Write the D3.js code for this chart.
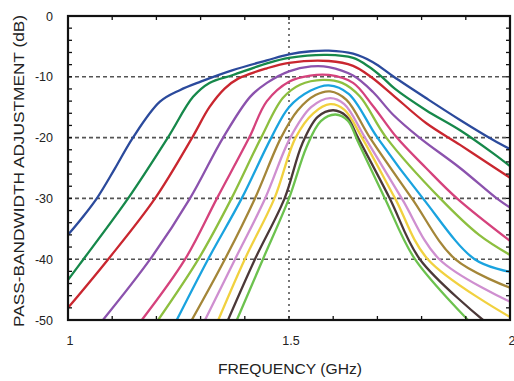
<!DOCTYPE html>
<html>
<head>
<meta charset="utf-8">
<script src="https://cdn.jsdelivr.net/npm/d3@7"></script>
<style>
  body { margin: 0; background: #fff; }
  text { font-family: Arial, "Liberation Sans", Helvetica, sans-serif; fill: #222; }
</style>
</head>
<body>
<div id="chart"></div>
<script>
// tick labels
const xTickLabels = [1, 1.5, 2];
const yTickLabels = [0, -10, -20, -30, -40, -50];

// curve colours, widest passband first
const curveColors = ['#2b4a9c', '#16884a', '#c9262f', '#8b52ad', '#d5427c', '#8dbf3f',
    '#1aa3df', '#a48638', '#cf8fd0', '#f1d13f', '#4b3838', '#6cc24e'];

// [frequency GHz, dB]
const blueCurve = [[1.0, -36], [1.033, -33.1], [1.066, -29.9], [1.106, -25.1], [1.147, -20], [1.208, -14.1],
    [1.253, -12.2], [1.30, -10.8], [1.373, -8.9], [1.45, -7.3], [1.5, -6.3], [1.55, -5.8], [1.59, -5.7],
    [1.645, -6.2], [1.69, -7.6], [1.737, -10], [1.81, -13.5], [1.887, -17.1], [1.962, -20.4], [2.0, -21.9]];
const greenCurve = [[1.0, -43.4], [1.035, -40], [1.136, -30], [1.226, -20], [1.283, -13.3], [1.32, -11],
    [1.373, -9.7], [1.45, -7.8], [1.5, -6.9], [1.586, -6.4], [1.645, -6.9], [1.68, -8.3], [1.71, -10],
    [1.74, -12], [1.81, -15.5], [1.887, -18.8], [1.962, -22.6], [2.0, -24.7]];
const redCurve = [[1.0, -48], [1.091, -40], [1.197, -30], [1.281, -20], [1.32, -15], [1.355, -11.9],
    [1.385, -10.3], [1.45, -8.6], [1.5, -7.7], [1.59, -7.4], [1.645, -8.2], [1.685, -10], [1.735, -13],
    [1.81, -17.6], [1.887, -21.2], [1.962, -24.8], [2.0, -26.6]];
const purpleCurve = [[1.079, -50], [1.186, -40], [1.276, -30], [1.351, -20], [1.412, -13.3], [1.45, -11],
    [1.5, -9.1], [1.55, -8.3], [1.59, -8.4], [1.645, -9.8], [1.69, -12.5], [1.735, -16.2],
    [1.795, -20], [1.887, -25], [1.97, -30], [2.0, -31.5]];
const pinkCurve = [[1.167, -50], [1.265, -40], [1.337, -30], [1.41, -20], [1.45, -14], [1.5, -10.8],
    [1.548, -9.8], [1.59, -9.7], [1.645, -11], [1.69, -14.8], [1.744, -20], [1.81, -25], [1.88, -30],
    [2.0, -37]];
const limeCurve = [[1.204, -50], [1.295, -40], [1.37, -30], [1.437, -20], [1.486, -13.5], [1.525, -11.3],
    [1.577, -10.5], [1.62, -11], [1.66, -13.2], [1.72, -20], [1.842, -30], [1.93, -36],
    [2.0, -39.3]];
const cyanCurve = [[1.246, -50], [1.317, -40], [1.393, -30], [1.46, -20], [1.5, -15], [1.548, -12.3],
    [1.59, -11.4], [1.635, -12.8], [1.70, -20], [1.803, -30], [1.92, -40], [2.0, -42.1]];
const brownCurve = [[1.28, -50], [1.355, -40], [1.423, -30], [1.482, -20], [1.52, -15.5], [1.56, -13],
    [1.593, -12.4], [1.63, -13.8], [1.683, -20], [1.778, -30], [1.876, -40], [2.0, -44.7]];
const orchidCurve = [[1.31, -50], [1.378, -40], [1.446, -30], [1.503, -20], [1.55, -15], [1.593, -13.5],
    [1.625, -14.5], [1.672, -20], [1.755, -30], [1.84, -40], [2.0, -47]];
const yellowCurve = [[1.34, -50], [1.40, -40], [1.467, -30], [1.515, -20], [1.555, -16], [1.593, -14.5],
    [1.625, -15.4], [1.665, -20], [1.74, -30], [1.814, -40], [2.0, -49.5]];
const blackCurve = [[1.362, -50], [1.423, -40], [1.49, -30], [1.53, -21], [1.565, -16.6], [1.6, -15.5],
    [1.63, -16.5], [1.656, -20], [1.728, -30], [1.796, -40], [1.939, -50]];
const innerGreenCurve = [[1.382, -50], [1.441, -40], [1.5, -30], [1.54, -21.5], [1.572, -17.3], [1.605, -16.2],
    [1.633, -17.2], [1.655, -20.5], [1.717, -30], [1.785, -40], [1.905, -50]];

const curves = [blueCurve, greenCurve, redCurve, purpleCurve, pinkCurve, limeCurve,
    cyanCurve, brownCurve, orchidCurve, yellowCurve, blackCurve, innerGreenCurve];

const width = 514;
const height = 381;
const margin = {top: 16, right: 4, bottom: 61, left: 68};

const svg = d3.select('#chart')
    .append('svg')
        .attr('width', width)
        .attr('height', height);

const x = d3.scaleLinear()
    .domain([1, 2])
    .range([margin.left, width - margin.right]);
const y = d3.scaleLinear()
    .domain([-50, 0])
    .range([height - margin.bottom, margin.top]);

svg.append('defs').append('clipPath')
    .attr('id', 'plot')
    .append('rect')
        .attr('x', x(1))
        .attr('y', y(0))
        .attr('width', x(2) - x(1))
        .attr('height', y(-50) - y(0));

// dashed grid
svg.append('g')
    .selectAll('line')
    .data([-10, -20, -30, -40])
    .join('line')
        .attr('x1', x(1))
        .attr('x2', x(2))
        .attr('y1', d => y(d))
        .attr('y2', d => y(d))
        .attr('stroke', '#555')
        .attr('stroke-width', 1.6)
        .attr('stroke-dasharray', '4,3');
svg.append('line')
    .attr('x1', x(1.5))
    .attr('x2', x(1.5))
    .attr('y1', y(0))
    .attr('y2', y(-50))
    .attr('stroke', '#555')
    .attr('stroke-width', 1.6)
    .attr('stroke-dasharray', '2,4');

const line = d3.line()
    .curve(d3.curveCatmullRom.alpha(0.5))
    .x(d => x(d[0]))
    .y(d => y(d[1]));

svg.append('g')
    .attr('clip-path', 'url(#plot)')
    .selectAll('path')
    .data(curves)
    .join('path')
        .attr('fill', 'none')
        .attr('stroke', (d, i) => curveColors[i])
        .attr('stroke-width', 2.3)
        .attr('stroke-linejoin', 'round')
        .attr('d', line);

// axes with inward ticks
const xMinor = d3.range(11).map(i => 1 + i / 10);
const yMinor = d3.range(26).map(i => -i * 2);

const ticks = svg.append('g')
    .attr('stroke', '#111')
    .attr('stroke-width', 1.3);
ticks.selectAll('.xb')
    .data(xMinor)
    .join('line')
        .attr('x1', d => x(d)).attr('x2', d => x(d))
        .attr('y1', y(-50)).attr('y2', y(-50) - 4);
ticks.selectAll('.xt')
    .data(xMinor)
    .join('line')
        .attr('x1', d => x(d)).attr('x2', d => x(d))
        .attr('y1', y(0)).attr('y2', y(0) + 4);
ticks.selectAll('.yl')
    .data(yMinor)
    .join('line')
        .attr('x1', x(1)).attr('x2', x(1) + 4)
        .attr('y1', d => y(d)).attr('y2', d => y(d));
ticks.selectAll('.yr')
    .data(yMinor)
    .join('line')
        .attr('x1', x(2)).attr('x2', x(2) - 4)
        .attr('y1', d => y(d)).attr('y2', d => y(d));

svg.append('rect')
    .attr('x', x(1))
    .attr('y', y(0))
    .attr('width', x(2) - x(1))
    .attr('height', y(-50) - y(0))
    .attr('fill', 'none')
    .attr('stroke', '#111')
    .attr('stroke-width', 2.2);

svg.append('g')
    .selectAll('text')
    .data(yTickLabels)
    .join('text')
        .attr('x', x(1) - 15)
        .attr('y', d => y(d) + 4.5)
        .attr('text-anchor', 'end')
        .style('font-size', '12.5px')
        .text(d => d);

svg.append('g')
    .selectAll('text')
    .data(xTickLabels)
    .join('text')
        .attr('x', d => x(d) + 2)
        .attr('y', y(-50) + 25)
        .attr('text-anchor', 'middle')
        .style('font-size', '12.5px')
        .text(d => d);

svg.append('text')
    .attr('x', 290)
    .attr('y', 374)
    .attr('text-anchor', 'middle')
    .attr('textLength', 144)
    .attr('lengthAdjust', 'spacingAndGlyphs')
    .style('font-size', '15px')
    .text('FREQUENCY (GHz)');

svg.append('text')
    .attr('transform', 'translate(24,171) rotate(-90)')
    .attr('text-anchor', 'middle')
    .attr('textLength', 312)
    .attr('lengthAdjust', 'spacingAndGlyphs')
    .style('font-size', '15px')
    .text('PASS-BANDWIDTH ADJUSTMENT (dB)');
</script>
</body>
</html>
